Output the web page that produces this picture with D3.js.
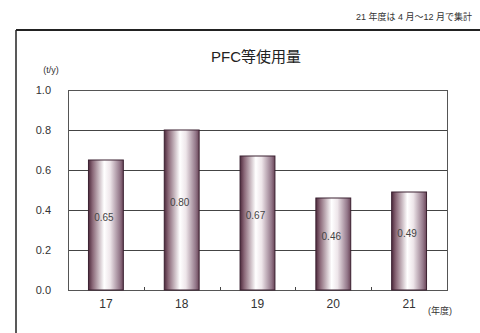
<!doctype html>
<html>
<head>
<meta charset="utf-8">
<script src="https://d3js.org/d3.v7.min.js"></script>
<style>
  body { margin: 0; background: #fff; }
  svg text { font-family: "Liberation Sans", "Noto Sans CJK JP", sans-serif; fill: #333; }
</style>
</head>
<body>
<script>
  // values
  let years = ["17", "18", "19", "20", "21"];
  let usage = [0.65, 0.80, 0.67, 0.46, 0.49];
  let yTicks = [0, 0.2, 0.4, 0.6, 0.8, 1.0];

  let width = 480, height = 333;
  let plotLeft = 68, plotRight = 447, plotTop = 90, plotBottom = 290;

  let svg = d3.select("body").append("svg")
      .attr("width", width)
      .attr("height", height);

  // bar gradient: dark maroon edges, white near the middle
  let grad = svg.append("defs").append("linearGradient")
      .attr("id", "barGrad")
      .attr("x1", "0%").attr("x2", "100%").attr("y1", "0%").attr("y2", "0%");
  grad.append("stop").attr("offset", "0%").attr("stop-color", "#4e2a3c");
  grad.append("stop").attr("offset", "12%").attr("stop-color", "#8a6878");
  grad.append("stop").attr("offset", "45%").attr("stop-color", "#ffffff");
  grad.append("stop").attr("offset", "62%").attr("stop-color", "#eee6ea");
  grad.append("stop").attr("offset", "90%").attr("stop-color", "#94788a");
  grad.append("stop").attr("offset", "100%").attr("stop-color", "#6a4558");

  // outer frame (top + left lines)
  svg.append("line").attr("x1", 16).attr("x2", width).attr("y1", 30).attr("y2", 30)
     .attr("stroke", "#222").attr("stroke-width", 2);
  svg.append("line").attr("x1", 16).attr("x2", 16).attr("y1", 30).attr("y2", height)
     .attr("stroke", "#222").attr("stroke-width", 1.5);

  // note top right
  svg.append("text")
     .attr("x", 472).attr("y", 20)
     .attr("text-anchor", "end")
     .style("font-size", "9px")
     .text("21 年度は 4 月～12 月で集計");

  // title
  svg.append("text")
     .attr("x", 256).attr("y", 62)
     .attr("text-anchor", "middle")
     .style("font-size", "15px")
     .style("fill", "#222")
     .text("PFC等使用量");

  let x = d3.scaleBand().domain(years).range([plotLeft, plotRight]).paddingInner(0.54).paddingOuter(0.27);
  let y = d3.scaleLinear().domain([0, 1]).range([plotBottom, plotTop]);

  // gridlines
  svg.append("g").selectAll("line")
     .data(yTicks)
     .join("line")
     .attr("x1", plotLeft).attr("x2", plotRight)
     .attr("y1", d => y(d) + 0.5).attr("y2", d => y(d) + 0.5)
     .attr("stroke", "#444").attr("stroke-width", 1);

  // plot frame
  svg.append("rect")
     .attr("x", plotLeft + 0.5).attr("y", plotTop + 0.5)
     .attr("width", plotRight - plotLeft).attr("height", plotBottom - plotTop)
     .attr("fill", "none").attr("stroke", "#555");

  // y axis labels
  let yAxis = svg.append("g")
     .attr("transform", "translate(" + (plotLeft - 14) + ",0)")
     .call(d3.axisLeft(y).tickValues(yTicks).tickFormat(d3.format(".1f")).tickSize(0));
  yAxis.select(".domain").remove();
  yAxis.selectAll("text").style("font-size", "11px").style("fill", "#333");

  svg.append("text")
     .attr("x", 51).attr("y", 73)
     .attr("text-anchor", "middle")
     .style("font-size", "9px")
     .text("(t/y)");

  // small ticks between categories on the bottom edge
  let step = x.step();
  svg.append("g").selectAll("line")
     .data(years.slice(1))
     .join("line")
     .attr("x1", d => Math.round(x(d) - x.paddingInner() * step / 2) + 0.5)
     .attr("x2", d => Math.round(x(d) - x.paddingInner() * step / 2) + 0.5)
     .attr("y1", plotBottom).attr("y2", plotBottom - 3)
     .attr("stroke", "#444");

  // bars
  svg.append("g").selectAll("rect")
     .data(usage)
     .join("rect")
     .attr("x", (d, i) => x(years[i]))
     .attr("y", d => y(d))
     .attr("width", x.bandwidth())
     .attr("height", d => plotBottom - y(d))
     .attr("fill", "url(#barGrad)")
     .attr("stroke", "#3a2030")
     .attr("stroke-width", 1);

  // value labels inside bars
  svg.append("g").selectAll("text")
     .data(usage)
     .join("text")
     .attr("x", (d, i) => x(years[i]) + x.bandwidth() / 2 - 2)
     .attr("y", d => y(d / 2) - 4)
     .attr("text-anchor", "middle")
     .style("font-size", "10px")
     .style("fill", "#444")
     .text(d => d3.format(".2f")(d));

  // x labels
  svg.append("g").selectAll("text")
     .data(years)
     .join("text")
     .attr("x", d => x(d) + x.bandwidth() / 2)
     .attr("y", 308)
     .attr("text-anchor", "middle")
     .style("font-size", "12px")
     .text(d => d);

  svg.append("text")
     .attr("x", 440).attr("y", 314)
     .attr("text-anchor", "middle")
     .style("font-size", "9px")
     .text("(年度)");
</script>
</body>
</html>
